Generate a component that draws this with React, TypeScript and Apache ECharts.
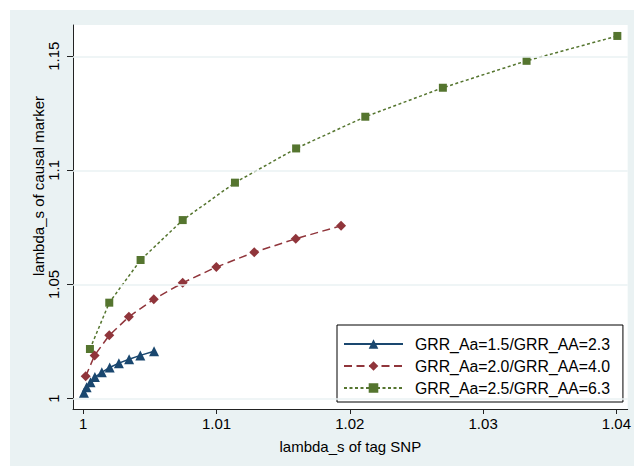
import React, { useEffect, useRef } from "react";
import * as echarts from "echarts";

const seriesNames = [
  "GRR_Aa=1.5/GRR_AA=2.3",
  "GRR_Aa=2.0/GRR_AA=4.0",
  "GRR_Aa=2.5/GRR_AA=6.3",
];

const xBlue = [1.00005, 1.00025, 1.00054, 1.00087, 1.00139, 1.00198, 1.00267, 1.00344, 1.00428, 1.00531];
const yBlue = [1.0025, 1.0049, 1.0071, 1.0094, 1.0115, 1.0136, 1.0155, 1.0172, 1.0189, 1.0207];

const xRed = [1.00018, 1.00085, 1.00195, 1.00342, 1.00529, 1.00746, 1.00998, 1.01283, 1.01594, 1.01934];
const yRed = [1.0097, 1.0189, 1.0277, 1.0358, 1.0435, 1.0507, 1.0576, 1.0641, 1.07, 1.0757];

const xGreen = [1.0005, 1.00195, 1.0043, 1.00746, 1.01138, 1.01597, 1.02116, 1.02698, 1.03326, 1.04007];
const yGreen = [1.0217, 1.042, 1.0607, 1.0782, 1.0946, 1.1096, 1.1235, 1.1362, 1.148, 1.1589];

const xTicks = [1, 1.01, 1.02, 1.03, 1.04];
const yTicks = [1, 1.05, 1.1, 1.15];

const xTitle = "lambda_s of tag SNP";
const yTitle = "lambda_s of causal marker";

const FONT = '"Liberation Sans", Arial, Helvetica, sans-serif';
const BG = "#EAF2F3";

const zip = (xs: number[], ys: number[]) => xs.map((x, i) => [x, ys[i]]);
const fmt = (v: number) => String(parseFloat(Number(v).toFixed(2)));

export default function App() {
  const ref = useRef<HTMLDivElement>(null);
  useEffect(() => {
    if (!ref.current) return;
    const chart = echarts.init(ref.current, null, { renderer: "svg" });
    chart.setOption({
      animation: false,
      backgroundColor: "#ffffff",
      textStyle: { fontFamily: FONT },
      graphic: [
        {
          type: "rect",
          z: -10,
          silent: true,
          shape: { x: 10, y: 10, width: 630, height: 460 },
          style: { fill: BG },
        },
        {
          type: "text",
          x: 38,
          y: 186,
          rotation: Math.PI / 2,
          style: {
            text: yTitle,
            font: `15px ${FONT}`,
            fill: "#000",
            align: "center",
            verticalAlign: "middle",
          },
        },
      ],
      grid: {
        left: 73,
        right: 5,
        top: 25,
        bottom: 57,
        show: true,
        backgroundColor: "#ffffff",
        borderWidth: 0,
      },
      legend: {
        orient: "vertical",
        left: 337,
        top: 325,
        data: seriesNames,
        backgroundColor: "#ffffff",
        borderColor: "#000",
        borderWidth: 1,
        borderRadius: 0,
        padding: [11, 13, 6, 6],
        itemWidth: 59,
        itemHeight: 12,
        itemGap: 6,
        textStyle: {
          fontFamily: FONT,
          fontSize: 15.8,
          color: "#000",
          lineHeight: 16,
          padding: [0, 0, 0, 7],
        },
      },
      xAxis: {
        type: "value",
        min: 0.999229,
        max: 1.040846,
        name: xTitle,
        nameLocation: "middle",
        nameGap: 30,
        nameTextStyle: { fontFamily: FONT, fontSize: 15, color: "#000" },
        axisLine: { show: true, onZero: false, lineStyle: { color: "#222", width: 1 } },
        axisTick: { show: true, length: 5, customValues: xTicks, lineStyle: { color: "#222" } },
        axisLabel: {
          customValues: xTicks,
          margin: 7,
          fontFamily: FONT,
          fontSize: 15,
          color: "#000",
          formatter: (v: number) => fmt(v),
        },
        splitLine: { show: false },
      },
      yAxis: {
        type: "value",
        min: 0.9954,
        max: 1.1637,
        axisLine: { show: true, onZero: false, lineStyle: { color: "#222", width: 1 } },
        axisTick: { show: true, length: 6, customValues: yTicks, lineStyle: { color: "#222" } },
        axisLabel: {
          customValues: yTicks,
          rotate: 90,
          margin: 12,
          fontFamily: FONT,
          fontSize: 15,
          color: "#000",
          formatter: (v: number) => fmt(v),
        },
        splitLine: { show: false },
      },
      series: [
        {
          name: "grid",
          type: "line",
          data: [],
          z: 1,
          silent: true,
          markLine: {
            silent: true,
            symbol: ["none", "none"],
            label: { show: false },
            lineStyle: { color: BG, width: 1.5, type: "solid" },
            data: yTicks.map((v) => ({ yAxis: v })),
          },
        },
        {
          name: seriesNames[0],
          type: "line",
          z: 4,
          data: zip(xBlue, yBlue),
          symbol: "triangle",
          symbolSize: 10,
          showAllSymbol: true,
          itemStyle: { color: "#1A476F" },
          lineStyle: { color: "#1A476F", width: 1.5, type: "solid" },
        },
        {
          name: seriesNames[1],
          type: "line",
          z: 3,
          data: zip(xRed, yRed),
          symbol: "diamond",
          symbolSize: 10,
          showAllSymbol: true,
          itemStyle: { color: "#90353B" },
          lineStyle: { color: "#90353B", width: 1.5, type: [8, 4.5] },
        },
        {
          name: seriesNames[2],
          type: "line",
          z: 2,
          data: zip(xGreen, yGreen),
          symbol: "rect",
          symbolSize: 8,
          showAllSymbol: true,
          itemStyle: { color: "#55752F" },
          lineStyle: { color: "#55752F", width: 1.5, type: [3, 2.5] },
        },
      ],
    });
    return () => chart.dispose();
  }, []);
  return (
    <div
      ref={ref}
      style={{ position: "fixed", left: 0, top: 0, width: 634, height: 466 }}
    />
  );
}
